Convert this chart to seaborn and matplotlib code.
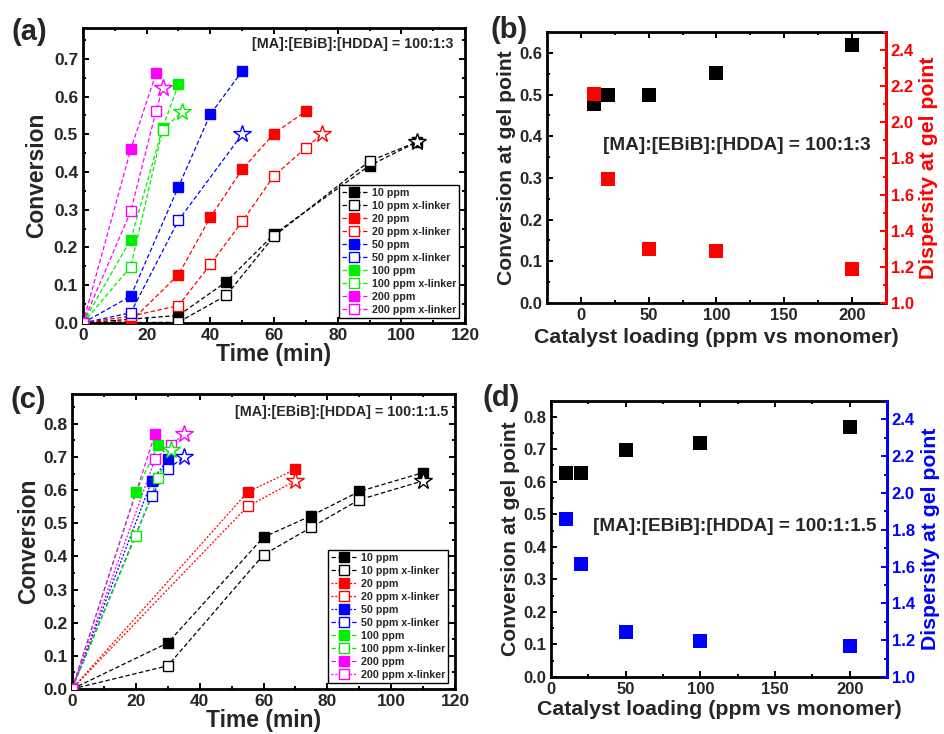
import numpy as np
import pandas as pd
import matplotlib
matplotlib.use("Agg")
import matplotlib.pyplot as plt
from matplotlib.lines import Line2D
from matplotlib.ticker import MultipleLocator
import seaborn as sns

sns.set_style("ticks")
plt.rcParams["font.family"] = ["Liberation Sans", "DejaVu Sans"]
plt.rcParams["font.weight"] = "bold"
plt.rcParams["axes.labelweight"] = "bold"

# ---------------- data: panel (a) [MA]:[EBiB]:[HDDA] = 100:1:3 ----------------
a_t_10 = [0, 30, 45, 60, 90, 105]
a_c_10 = [0, 0.020, 0.109, 0.235, 0.417, 0.480]
a_t_10x = [0, 30, 45, 60, 90, 105]
a_c_10x = [0, 0.002, 0.073, 0.230, 0.429, 0.480]
a_t_20 = [0, 15, 30, 40, 50, 60, 70]
a_c_20 = [0, 0.004, 0.128, 0.280, 0.407, 0.502, 0.561]
a_t_20x = [0, 15, 30, 40, 50, 60, 70, 75]
a_c_20x = [0, 0.018, 0.046, 0.155, 0.269, 0.390, 0.464, 0.500]
a_t_50 = [0, 15, 30, 40, 50]
a_c_50 = [0, 0.071, 0.361, 0.553, 0.667]
a_t_50x = [0, 15, 30, 50]
a_c_50x = [0, 0.027, 0.272, 0.500]
a_t_100 = [0, 15, 25, 30]
a_c_100 = [0, 0.221, 0.516, 0.633]
a_t_100x = [0, 15, 25, 31]
a_c_100x = [0, 0.149, 0.512, 0.559]
a_t_200 = [0, 15, 23]
a_c_200 = [0, 0.460, 0.662]
a_t_200x = [0, 15, 23, 25]
a_c_200x = [0, 0.296, 0.563, 0.622]

# ---------------- data: panel (c) [MA]:[EBiB]:[HDDA] = 100:1:1.5 ----------------
c_t_10 = [0, 30, 60, 75, 90, 110]
c_c_10 = [0, 0.139, 0.458, 0.523, 0.596, 0.653]
c_t_10x = [0, 30, 60, 75, 90, 110]
c_c_10x = [0, 0.070, 0.405, 0.488, 0.571, 0.628]
c_t_20 = [0, 55, 70]
c_c_20 = [0, 0.594, 0.663]
c_t_20x = [0, 55, 70]
c_c_20x = [0, 0.551, 0.628]
c_t_50 = [0, 25, 30]
c_c_50 = [0, 0.628, 0.693]
c_t_50x = [0, 25, 30, 35]
c_c_50x = [0, 0.583, 0.663, 0.700]
c_t_100 = [0, 20, 27]
c_c_100 = [0, 0.594, 0.736]
c_t_100x = [0, 20, 27, 31]
c_c_100x = [0, 0.463, 0.638, 0.720]
c_t_200 = [0, 26]
c_c_200 = [0, 0.769]
c_t_200x = [0, 26, 31, 35]
c_c_200x = [0, 0.693, 0.736, 0.769]

series_labels = ["10 ppm", "10 ppm x-linker", "20 ppm", "20 ppm x-linker",
                 "50 ppm", "50 ppm x-linker", "100 ppm", "100 ppm x-linker",
                 "200 ppm", "200 ppm x-linker"]

# ---------------- data: panels (b), (d) ----------------
loading = [10, 20, 50, 100, 200]
b_conv = [0.477, 0.500, 0.500, 0.552, 0.620]
b_disp = [2.157, 1.687, 1.300, 1.289, 1.189]
d_conv = [0.626, 0.626, 0.698, 0.720, 0.769]
d_disp = [1.857, 1.615, 1.242, 1.193, 1.166]

ratio_a = "[MA]:[EBiB]:[HDDA] = 100:1:3"
ratio_c = "[MA]:[EBiB]:[HDDA] = 100:1:1.5"

colors = ["#000000", "#000000", "#FF0000", "#FF0000", "#0000FF", "#0000FF",
          "#00EE00", "#00EE00", "#FF00FF", "#FF00FF"]
filled = [True, False] * 5

DASH = (0, (3.5, 2))
DOT = (0, (1.6, 1.4))

fig = plt.figure(figsize=(9.44, 7.34), dpi=100)

ax_a = fig.add_axes([0.0879, 0.560, 0.4047, 0.402])
ax_b = fig.add_axes([0.5794, 0.5872, 0.3591, 0.3692])
ax_c = fig.add_axes([0.0763, 0.0613, 0.4057, 0.4019])
ax_d = fig.add_axes([0.5837, 0.0777, 0.3559, 0.3760])

MS = 7.6


def draw_series(ax, t, c, color, full, star, ls):
    sns.lineplot(x=t, y=c, ax=ax, color=color, linestyle=ls, linewidth=0.9,
                 estimator=None, sort=False, errorbar=None, zorder=2)
    n = len(t) - (1 if star else 0)
    sns.lineplot(x=t[:n], y=c[:n], ax=ax, color=color, linestyle="none",
                 marker="s", markersize=MS,
                 markerfacecolor=color if full else "white",
                 markeredgecolor=color, markeredgewidth=1.0,
                 estimator=None, sort=False, errorbar=None, zorder=3)
    if star:
        sns.lineplot(x=t[-1:], y=c[-1:], ax=ax, color=color, linestyle="none",
                     marker="*", markersize=13, markerfacecolor="white",
                     markeredgecolor=color, markeredgewidth=1.0,
                     estimator=None, sort=False, errorbar=None, zorder=4)


def style_axis(ax, fs):
    for s in ax.spines.values():
        s.set_linewidth(2.0)
        s.set_color("black")
    ax.tick_params(which="both", direction="in", top=True, right=True,
                   labelsize=fs, width=1.4, color="black")
    ax.tick_params(which="major", length=4.5)
    ax.tick_params(which="minor", length=2.5)
    for lab in ax.get_xticklabels() + ax.get_yticklabels():
        lab.set_fontweight("bold")


def kinetic_panel(ax, ts, cs, styles, ylim, ytext, text, loc_anchor, labelpad_y):
    for i in range(10):
        star = (i % 2 == 1)
        draw_series(ax, ts[i], cs[i], colors[i], filled[i], star, styles[i])
    ax.set_xlim(0, 120)
    ax.set_ylim(*ylim)
    ax.xaxis.set_major_locator(MultipleLocator(20))
    ax.xaxis.set_minor_locator(MultipleLocator(10))
    ax.yaxis.set_major_locator(MultipleLocator(0.1))
    ax.yaxis.set_minor_locator(MultipleLocator(0.05))
    ax.yaxis.set_major_formatter(matplotlib.ticker.FormatStrFormatter("%.1f"))
    ax.set_xlabel("Time (min)", fontsize=16.5, fontweight="bold", labelpad=0)
    ax.set_ylabel("Conversion", fontsize=16.5, fontweight="bold", labelpad=labelpad_y)
    style_axis(ax, 12.5)
    ax.text(ytext[0], ytext[1], text, transform=ax.transAxes, ha="right",
            va="center", fontsize=10.3, fontweight="bold")
    handles = []
    for i in range(10):
        handles.append(Line2D([0], [0], color=colors[i], linestyle=styles[i], linewidth=0.9,
                              marker="s", markersize=MS,
                              markerfacecolor=colors[i] if filled[i] else "white",
                              markeredgecolor=colors[i], markeredgewidth=1.0))
    leg = ax.legend(handles, series_labels, loc="lower right",
                    bbox_to_anchor=loc_anchor, prop={"size": 7.7, "weight": "bold"},
                    frameon=True, fancybox=False, edgecolor="black", framealpha=1,
                    labelspacing=0.28, handlelength=2.4, handletextpad=0.4,
                    borderpad=0.28, borderaxespad=0.0)
    leg.get_frame().set_linewidth(1.0)


styles_a = [DASH] * 10
kinetic_panel(ax_a,
              [a_t_10, a_t_10x, a_t_20, a_t_20x, a_t_50, a_t_50x, a_t_100, a_t_100x, a_t_200, a_t_200x],
              [a_c_10, a_c_10x, a_c_20, a_c_20x, a_c_50, a_c_50x, a_c_100, a_c_100x, a_c_200, a_c_200x],
              styles_a, (0, 0.782), (0.969, 0.946), ratio_a, (0.984, 0.017), 4)

styles_c = [DASH, DASH, DOT, DOT, DOT, DASH, DASH, DASH, DASH, DOT]
kinetic_panel(ax_c,
              [c_t_10, c_t_10x, c_t_20, c_t_20x, c_t_50, c_t_50x, c_t_100, c_t_100x, c_t_200, c_t_200x],
              [c_c_10, c_c_10x, c_c_20, c_c_20x, c_c_50, c_c_50x, c_c_100, c_c_100x, c_c_200, c_c_200x],
              styles_c, (0, 0.89), (0.982, 0.94), ratio_c, (0.982, 0.02), 2)


def gel_panel(ax, conv, disp, dcolor, xlim, ylim, ymaj, text, tpos, xlabelpad):
    sns.scatterplot(x=loading, y=conv, ax=ax, marker="s", s=88, color="black",
                    linewidth=0, zorder=3)
    ax2 = ax.twinx()
    sns.scatterplot(x=loading, y=disp, ax=ax2, marker="s", s=88, color=dcolor,
                    linewidth=0, zorder=3)
    ax.set_xlim(*xlim)
    ax.set_ylim(*ylim)
    ax2.set_ylim(1.0, 2.5)
    ax.xaxis.set_major_locator(MultipleLocator(50))
    ax.xaxis.set_minor_locator(MultipleLocator(25))
    ax.yaxis.set_major_locator(MultipleLocator(ymaj))
    ax.yaxis.set_minor_locator(MultipleLocator(ymaj / 2))
    ax.yaxis.set_major_formatter(matplotlib.ticker.FormatStrFormatter("%.1f"))
    ax2.yaxis.set_major_locator(MultipleLocator(0.2))
    ax2.yaxis.set_minor_locator(MultipleLocator(0.1))
    ax2.yaxis.set_major_formatter(matplotlib.ticker.FormatStrFormatter("%.1f"))
    style_axis(ax, 12)
    ax.tick_params(which="both", right=False)
    ax.set_xlabel("Catalyst loading (ppm vs monomer)", fontsize=15.4,
                  fontweight="bold", labelpad=xlabelpad)
    ax.set_ylabel("Conversion at gel point", fontsize=15.2, fontweight="bold", labelpad=2)
    for s in ax2.spines.values():
        s.set_linewidth(2.0)
    ax2.spines["right"].set_color(dcolor)
    ax2.spines["left"].set_visible(False)
    ax2.spines["top"].set_visible(False)
    ax2.spines["bottom"].set_visible(False)
    ax2.tick_params(which="both", direction="in", labelsize=12, width=1.4,
                    color=dcolor, labelcolor=dcolor)
    ax2.tick_params(which="major", length=4.5)
    ax2.tick_params(which="minor", length=2.5)
    for lab in ax2.get_yticklabels():
        lab.set_fontweight("bold")
    ax2.set_ylabel("Dispersity at gel point", fontsize=15.3, fontweight="bold",
                   color=dcolor, labelpad=4)
    ax.text(tpos[0], tpos[1], text, transform=ax.transAxes, ha="center",
            va="center", fontsize=13.7, fontweight="bold")


gel_panel(ax_b, b_conv, b_disp, "#FF0000", (-25, 225), (0, 0.65), 0.1, ratio_a,
          (0.56, 0.583), 4)
gel_panel(ax_d, d_conv, d_disp, "#0000FF", (0, 225), (0, 0.848), 0.1, ratio_c,
          (0.546, 0.545), 2)

for lab, (x, y) in zip(["(a)", "(b)", "(c)", "(d)"],
                       [(29, 32), (509.5, 30), (28.5, 400), (501, 398)]):
    fig.text(x / 944, 1 - y / 734, lab, ha="center", va="center",
             fontsize=21, fontweight="bold")

fig.savefig("out.png", dpi=100)
